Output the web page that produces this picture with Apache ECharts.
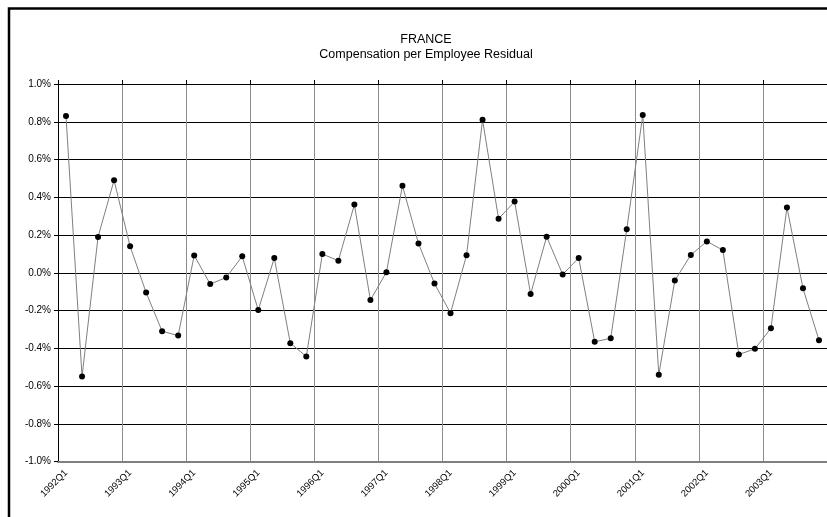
<!DOCTYPE html>
<html>
<head>
<meta charset="utf-8">
<script src="https://cdn.jsdelivr.net/npm/echarts@6/dist/echarts.min.js"></script>
<style>
  html, body { margin: 0; padding: 0; background: #ffffff; }
  #chart { width: 827px; height: 517px; }
</style>
</head>
<body>
<div id="chart"></div>
<script>
// 数据：1992Q1 – 2003Q4 季度残差（单位 %）
const YEARS = ['1992', '1993', '1994', '1995', '1996', '1997', '1998', '1999', '2000', '2001', '2002', '2003'];
const QUARTERS = ['Q1', 'Q2', 'Q3', 'Q4'];
const CATEGORIES = YEARS.flatMap((y) => QUARTERS.map((q) => y + q));

const RESIDUAL = [
  0.83, -0.55, 0.19, 0.49,     // 1992
  0.14, -0.105, -0.31, -0.333, // 1993
  0.092, -0.06, -0.025, 0.087, // 1994
  -0.198, 0.078, -0.373, -0.444, // 1995
  0.099, 0.064, 0.361, -0.145, // 1996
  0.003, 0.461, 0.155, -0.057, // 1997
  -0.214, 0.093, 0.81, 0.286,  // 1998
  0.377, -0.113, 0.191, -0.009, // 1999
  0.078, -0.366, -0.347, 0.23, // 2000
  0.836, -0.54, -0.041, 0.094, // 2001
  0.166, 0.12, -0.433, -0.403, // 2002
  -0.294, 0.346, -0.082, -0.358, // 2003
];

const TITLE = 'FRANCE';
const SUBTITLE = 'Compensation per Employee Residual';

const FONT = '"Liberation Sans", Arial, sans-serif';

const chart = echarts.init(document.getElementById('chart'), null, { renderer: 'canvas' });

chart.setOption({
  animation: false,
  backgroundColor: '#ffffff',
  title: [
    { text: TITLE, left: 421, top: 28, textAlign: 'center',
      textStyle: { fontFamily: FONT, fontSize: 12.5, fontWeight: 'normal', color: '#000' } },
    { text: SUBTITLE, left: 421, top: 43, textAlign: 'center',
      textStyle: { fontFamily: FONT, fontSize: 12.5, fontWeight: 'normal', color: '#000' } },
  ],
  // 外框（图表区边框，右侧与下侧被裁掉）
  graphic: [{
    type: 'rect',
    shape: { x: 9, y: 8.5, width: 1000, height: 1000 },
    style: { fill: 'none', stroke: '#000', lineWidth: 2.5 },
    silent: true,
  }],
  grid: { left: 58, top: 84, width: 773.5, height: 377.5, containLabel: false },
  xAxis: [
    {
      type: 'category',
      data: CATEGORIES,
      position: 'bottom',
      boundaryGap: true,
      axisLine: { onZero: false, lineStyle: { color: '#808080', width: 2 } },
      axisTick: { show: false },
      axisLabel: {
        interval: 3,
        rotate: 45,
        margin: 10,
        fontFamily: FONT,
        fontSize: 9.5,
        color: '#000',
      },
      splitLine: { show: true, interval: 3, lineStyle: { color: '#8c8c8c', width: 1 } },
    },
    {
      type: 'category',
      data: CATEGORIES,
      position: 'top',
      boundaryGap: true,
      axisLine: { onZero: false, lineStyle: { color: '#000', width: 1 } },
      axisTick: { show: true, interval: 3, length: 4, lineStyle: { color: '#000' } },
      axisLabel: { show: false },
      splitLine: { show: false },
    },
  ],
  yAxis: {
    type: 'value',
    min: -1,
    max: 1,
    interval: 0.2,
    axisLine: { show: true, lineStyle: { color: '#000', width: 1 } },
    axisTick: { show: true, length: 4, lineStyle: { color: '#000' } },
    axisLabel: {
      fontFamily: FONT,
      fontSize: 10,
      color: '#000',
      margin: 7,
      formatter: (v) => v.toFixed(1) + '%',
    },
    splitLine: { show: true, lineStyle: { color: '#000', width: 1 } },
  },
  series: [{
    type: 'line',
    xAxisIndex: 0,
    data: RESIDUAL,
    symbol: 'circle',
    symbolSize: 6,
    showAllSymbol: true,
    lineStyle: { color: '#808080', width: 1 },
    itemStyle: { color: '#000', borderWidth: 0 },
  }],
});
</script>
</body>
</html>
